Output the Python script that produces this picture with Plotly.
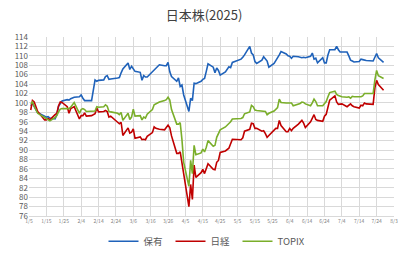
import plotly.graph_objects as go
import pandas as pd

# trading days (2025) by month
days_jan = [6, 7, 8, 9, 10, 14, 15, 16, 17, 20, 21, 22, 23, 24, 27, 28, 29, 30, 31]
days_feb = [3, 4, 5, 6, 7, 10, 12, 13, 14, 17, 18, 19, 20, 21, 25, 26, 27, 28]
days_mar = [3, 4, 5, 6, 7, 10, 11, 12, 13, 14, 17, 18, 19, 21, 24, 25, 26, 27, 28, 31]
days_apr = [1, 2, 3, 4, 7, 8, 9, 10, 11, 14, 15, 16, 17, 18, 21, 22, 23, 24, 25, 28, 30]
days_may = [1, 2, 7, 8, 9, 12, 13, 14, 15, 16, 19, 20, 21, 22, 23, 26, 27, 28, 29, 30]
days_jun = [2, 3, 4, 5, 6, 9, 10, 11, 12, 13, 16, 17, 18, 19, 20, 23, 24, 25, 26, 27, 30]
days_jul = [1, 2, 3, 4, 7, 8, 9, 10, 11, 14, 15, 16, 17, 18, 22, 23, 24, 25, 28]

hold = [
    99.4, 99.9, 99.2, 98.5, 97.9, 97.2, 97.0, 97.1, 96.8, 96.6, 97.5, 99.3, 99.9, 100.4, 100.7, 100.6, 100.9, 101.0, 101.2,
    101.3, 101.7, 101.0, 100.5, 100.5, 100.5, 104.9, 104.6, 104.8, 104.9, 105.6, 105.8, 105.0, 105.1, 105.3, 105.4, 106.4, 107.2,
    108.5, 107.1, 107.8, 107.3, 106.7, 106.5, 104.8, 105.8, 105.5, 105.5, 106.6, 107.0, 107.3, 108.1, 107.9, 107.9, 108.6, 106.6, 105.6, 104.6,
    105.3, 103.5, 103.8, 101.7, 98.2, 101.0, 100.5, 104.2, 104.1, 104.6, 105.0, 105.2, 106.7, 108.3, 107.6, 106.4, 107.4, 106.9, 105.9, 106.6, 107.7,
    107.5, 108.6, 109.3, 109.7, 110.2, 112.0, 110.6, 110.2, 108.8, 108.4, 109.1, 109.8, 109.4, 108.9, 107.6, 108.4, 109.0, 109.5, 110.2, 110.9,
    110.4, 110.0, 109.9, 109.5, 109.9, 109.8, 109.7, 109.6, 109.7, 109.6, 109.9, 110.6, 109.3, 109.5, 108.5, 109.6, 108.5, 108.5, 110.2, 111.3, 111.3,
    112.0, 111.3, 110.8, 110.8, 110.8, 110.0, 109.1, 108.9, 108.7, 108.8, 109.3, 109.2, 109.1, 109.0, 108.9, 109.8, 110.5, 109.6, 108.6,
]

nikkei = [
    98.5, 100.5, 100.2, 99.3, 98.2, 96.4, 96.4, 96.7, 96.4, 97.5, 97.8, 99.4, 100.2, 100.1, 99.2, 97.8, 98.8, 99.0, 99.2,
    96.6, 97.3, 97.3, 97.9, 97.2, 97.3, 97.7, 98.9, 98.1, 98.2, 98.4, 98.2, 97.0, 97.2, 95.9, 95.6, 95.9, 93.1,
    94.7, 93.6, 93.8, 94.5, 92.5, 92.8, 92.2, 92.3, 92.2, 92.9, 93.7, 94.9, 94.6, 94.4, 94.3, 94.7, 95.3, 94.7, 93.0, 89.3,
    89.3, 89.6, 87.1, 84.7, 78.0, 82.7, 79.5, 86.8, 84.2, 85.2, 85.9, 85.0, 86.2, 87.1, 85.9, 85.8, 87.4, 87.8, 89.5, 89.8, 90.4,
    91.4, 92.3, 92.2, 92.6, 94.0, 94.4, 95.7, 95.6, 94.6, 94.6, 94.0, 94.1, 93.5, 92.7, 93.1, 94.1, 94.6, 94.6, 96.3, 95.2,
    93.9, 93.9, 94.6, 94.1, 94.6, 95.5, 95.8, 96.3, 95.7, 94.8, 96.0, 96.6, 97.5, 96.5, 96.3, 96.1, 97.2, 97.6, 99.2, 100.6, 101.5,
    100.2, 99.7, 99.7, 99.8, 99.2, 99.5, 99.8, 99.4, 99.2, 98.9, 99.5, 99.4, 100.0, 99.8, 99.7, 103.2, 104.8, 103.9, 102.7,
]

topix = [
    99.8, 100.2, 99.3, 98.6, 97.8, 96.9, 96.6, 96.5, 96.2, 96.9, 97.3, 98.1, 98.7, 98.8, 98.9, 98.8, 99.1, 99.6, 100.1,
    97.8, 98.6, 98.8, 98.6, 98.2, 98.3, 98.3, 99.2, 99.1, 99.2, 99.6, 99.3, 98.2, 98.1, 97.8, 97.5, 98.0, 96.3,
    97.8, 96.5, 97.0, 98.7, 97.2, 97.3, 96.4, 97.0, 96.8, 97.6, 98.6, 99.6, 99.8, 100.2, 100.5, 100.7, 101.2, 100.6, 98.6, 95.5,
    95.5, 95.8, 92.2, 87.4, 82.3, 87.8, 85.0, 91.0, 89.0, 89.4, 90.2, 89.6, 90.6, 92.0, 90.8, 91.0, 92.7, 93.4, 94.3, 94.9, 95.6,
    96.0, 96.6, 96.7, 96.9, 97.7, 98.1, 99.5, 99.2, 98.5, 98.4, 98.3, 98.3, 98.2, 97.5, 97.8, 98.3, 98.6, 99.0, 100.8, 100.1,
    100.0, 100.0, 100.1, 100.0, 99.4, 99.7, 99.9, 100.2, 100.1, 99.8, 99.4, 100.0, 100.8, 100.3, 99.4, 99.4, 100.0, 100.3, 101.3, 102.2, 102.5,
    101.8, 101.6, 101.5, 101.3, 101.2, 101.3, 101.0, 101.4, 101.3, 101.2, 101.3, 101.5, 102.0, 102.0, 102.0, 104.9, 106.9, 105.8, 105.2,
]

x_tick_labels = ["1/5", "1/15", "1/25", "2/4", "2/14", "2/24", "3/6", "3/16", "3/26", "4/5", "4/15",
                 "4/25", "5/5", "5/15", "5/25", "6/4", "6/14", "6/24", "7/4", "7/14", "7/24", "8/3"]

month_days = [days_jan, days_feb, days_mar, days_apr, days_may, days_jun, days_jul]
dates = [f"2025-{m + 1:02d}-{d:02d}" for m, ds in enumerate(month_days) for d in ds]
assert len(dates) == len(hold) == len(nikkei) == len(topix)

tick_dates = pd.date_range("2025-01-05", periods=len(x_tick_labels), freq="10D")

fig = go.Figure()
fig.add_trace(go.Scatter(x=dates, y=hold, name="保有", mode="lines",
                         line=dict(color="#1F62BA", width=1.6)))
fig.add_trace(go.Scatter(x=dates, y=nikkei, name="日経", mode="lines",
                         line=dict(color="#C00000", width=1.6)))
fig.add_trace(go.Scatter(x=dates, y=topix, name="TOPIX", mode="lines",
                         line=dict(color="#7AAE2A", width=1.6)))

font_family = "Noto Sans CJK JP, Noto Sans, sans-serif"
fig.update_layout(
    width=408, height=254,
    margin=dict(l=29, r=14, t=37, b=38, autoexpand=False),
    paper_bgcolor="white", plot_bgcolor="white",
    font=dict(family=font_family, color="#595959"),
    title=dict(text="日本株(2025)", x=0.5, xanchor="center", y=0.94, yanchor="middle",
               font=dict(size=13, color="#404040", family=font_family)),
    legend=dict(orientation="h", x=0.5, xanchor="center", xref="container",
                y=0.05, yanchor="middle", yref="container",
                font=dict(size=9.5, color="#595959"), itemwidth=30, tracegroupgap=0,
                entrywidth=22, entrywidthmode="pixels"),
    showlegend=True,
)
fig.update_xaxes(
    type="date", range=["2025-01-05", "2025-08-03"],
    tickvals=tick_dates, ticktext=x_tick_labels, tickangle=0,
    tickfont=dict(size=5, color="#7F7F7F"),
    showgrid=True, gridcolor="#D9D9D9", gridwidth=1,
    showline=True, linecolor="#D9D9D9", zeroline=False, ticks="", automargin=False,
)
fig.update_yaxes(
    range=[76, 114], dtick=2, tick0=76,
    tickfont=dict(size=8, color="#595959"),
    showgrid=True, gridcolor="#D9D9D9", gridwidth=1,
    showline=False, zeroline=False, ticks="", automargin=False,
)
fig.write_html("out.html")
